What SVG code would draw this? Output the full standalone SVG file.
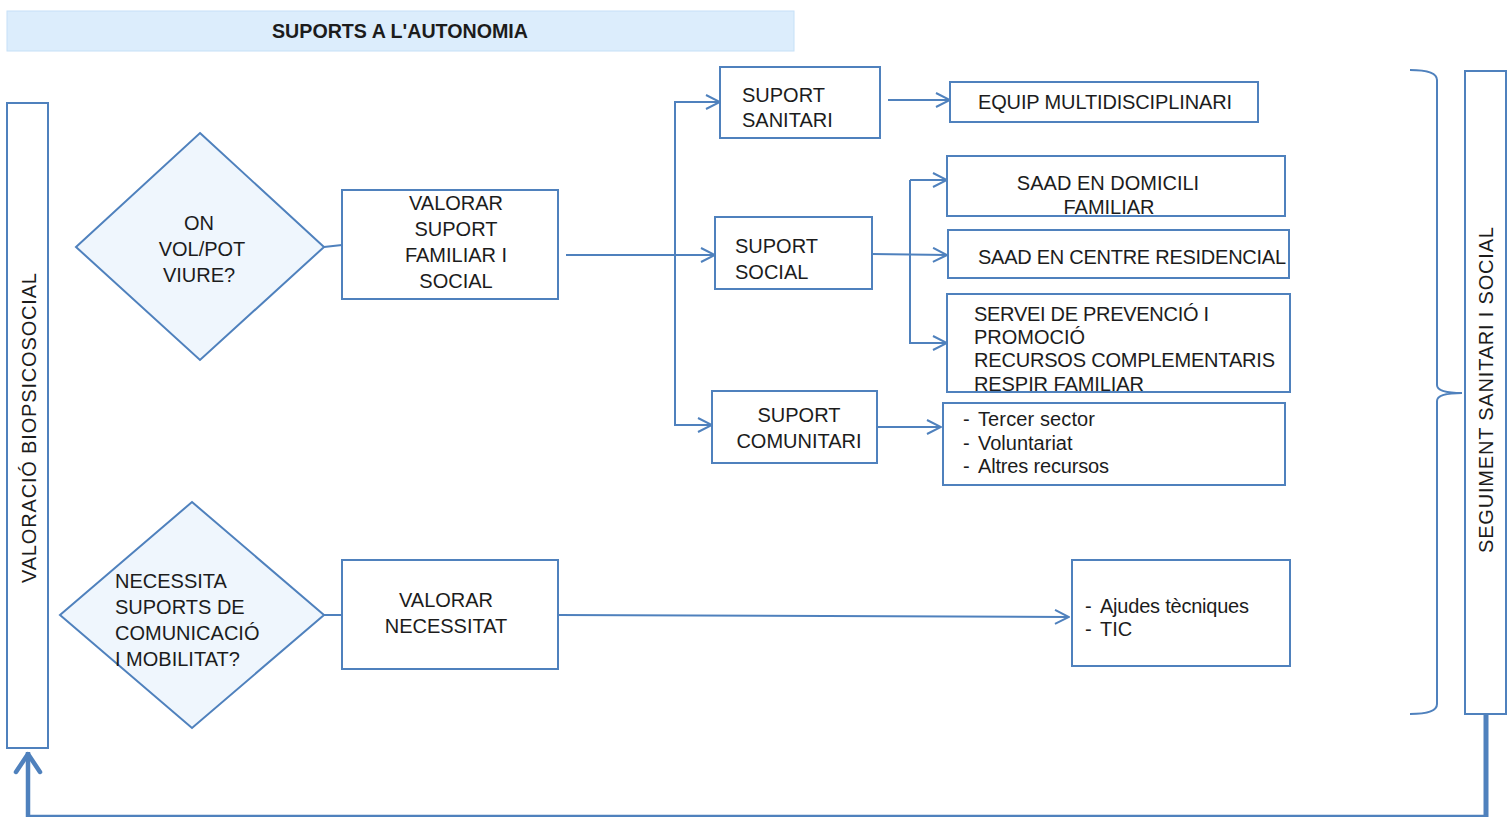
<svg xmlns="http://www.w3.org/2000/svg" width="1510" height="817" viewBox="0 0 1510 817">
  <style>
    .box { fill: #ffffff; stroke: #4f81bd; stroke-width: 2; }
    .dia { fill: #eff6fd; stroke: #4f81bd; stroke-width: 2; }
    .ln { fill: none; stroke: #4f81bd; stroke-width: 2; }
    .t { font-family: "Liberation Sans", Arial, sans-serif; font-size: 20px; fill: #1c1c1c; }
    .c { text-anchor: middle; }
  </style>
  <defs>
    <marker id="arr" viewBox="0 0 16 16" refX="15" refY="8" markerWidth="16" markerHeight="16" markerUnits="userSpaceOnUse" orient="auto">
      <path d="M1,1 L15,8 L1,15" fill="none" stroke="#4f81bd" stroke-width="2"/>
    </marker>
  </defs>

  <rect width="1510" height="817" fill="#ffffff"/>

  <!-- header band -->
  <g id="title">
    <rect x="7" y="11" width="787" height="40" fill="#dcedfc" stroke="#c6e0f7" stroke-width="1"/>
    <text class="t c" x="400" y="37.5" font-weight="bold" font-size="18" textLength="256" lengthAdjust="spacingAndGlyphs">SUPORTS A L'AUTONOMIA</text>
  </g>

  <!-- side columns -->
  <g id="valoracio">
    <rect class="box" x="7" y="103" width="41" height="645"/>
    <text class="t c" transform="translate(36,428) rotate(-90)" font-size="20" textLength="310">VALORACIÓ BIOPSICOSOCIAL</text>
  </g>
  <g id="seguiment">
    <rect class="box" x="1465" y="71" width="41" height="643"/>
    <text class="t c" transform="translate(1493,390) rotate(-90)" font-size="20" textLength="326">SEGUIMENT SANITARI I SOCIAL</text>
  </g>

  <!-- decisions -->
  <g id="on-viure">
    <polygon class="dia" points="200,133 324,247 200,360 76,247"/>
    <text class="t c" x="199" y="230">ON</text>
    <text class="t c" x="202" y="256">VOL/POT</text>
    <text class="t c" x="199" y="282">VIURE?</text>
  </g>
  <g id="necessita">
    <polygon class="dia" points="192,502 324,615 192,728 60,615"/>
    <text class="t" x="115" y="588">NECESSITA</text>
    <text class="t" x="115" y="614">SUPORTS DE</text>
    <text class="t" x="115" y="640">COMUNICACIÓ</text>
    <text class="t" x="115" y="666">I MOBILITAT?</text>
  </g>

  <!-- assessment boxes -->
  <g id="valorar-suport">
    <rect class="box" x="342" y="190" width="216" height="109"/>
    <text class="t c" x="456" y="210">VALORAR</text>
    <text class="t c" x="456" y="236">SUPORT</text>
    <text class="t c" x="456" y="262">FAMILIAR I</text>
    <text class="t c" x="456" y="288">SOCIAL</text>
  </g>
  <g id="valorar-necessitat">
    <rect class="box" x="342" y="560" width="216" height="109"/>
    <text class="t c" x="446" y="607">VALORAR</text>
    <text class="t c" x="446" y="633">NECESSITAT</text>
  </g>

  <!-- support types -->
  <g id="suport-sanitari">
    <rect class="box" x="720" y="67" width="160" height="71"/>
    <text class="t" x="742" y="102">SUPORT</text>
    <text class="t" x="742" y="127">SANITARI</text>
  </g>
  <g id="suport-social">
    <rect class="box" x="715" y="217" width="157" height="72"/>
    <text class="t" x="735" y="253">SUPORT</text>
    <text class="t" x="735" y="279">SOCIAL</text>
  </g>
  <g id="suport-comunitari">
    <rect class="box" x="712" y="391" width="165" height="72"/>
    <text class="t c" x="799" y="422">SUPORT</text>
    <text class="t c" x="799" y="448">COMUNITARI</text>
  </g>

  <!-- resources -->
  <g id="equip">
    <rect class="box" x="950" y="82" width="308" height="40"/>
    <text class="t" x="978" y="108.5" font-size="18" textLength="254">EQUIP MULTIDISCIPLINARI</text>
  </g>
  <g id="saad-domicili">
    <rect class="box" x="947" y="156" width="338" height="60"/>
    <text class="t c" x="1108" y="190">SAAD EN DOMICILI</text>
    <text class="t c" x="1109" y="214">FAMILIAR</text>
  </g>
  <g id="saad-residencial">
    <rect class="box" x="948" y="230" width="341" height="48"/>
    <text class="t" x="978" y="264" textLength="308">SAAD EN CENTRE RESIDENCIAL</text>
  </g>
  <g id="servei-prevencio">
    <rect class="box" x="947" y="294" width="343" height="98"/>
    <text class="t" x="974" y="321" textLength="235">SERVEI DE PREVENCIÓ I</text>
    <text class="t" x="974" y="344">PROMOCIÓ</text>
    <text class="t" x="974" y="367" textLength="301">RECURSOS COMPLEMENTARIS</text>
    <text class="t" x="974" y="391" textLength="170">RESPIR FAMILIAR</text>
  </g>
  <g id="recursos-comunitaris">
    <rect class="box" x="943" y="403" width="342" height="82"/>
    <text class="t" x="963" y="426">-</text><text class="t" x="978" y="426" textLength="117">Tercer sector</text>
    <text class="t" x="963" y="450">-</text><text class="t" x="978" y="450">Voluntariat</text>
    <text class="t" x="963" y="473">-</text><text class="t" x="978" y="473" textLength="131">Altres recursos</text>
  </g>
  <g id="ajudes">
    <rect class="box" x="1072" y="560" width="218" height="106"/>
    <text class="t" x="1085" y="613">-</text><text class="t" x="1100" y="613" textLength="149">Ajudes tècniques</text>
    <text class="t" x="1085" y="636">-</text><text class="t" x="1100" y="636">TIC</text>
  </g>

  <!-- connectors -->
  <g id="connectors">
    <line class="ln" x1="324" y1="247" x2="342" y2="245"/>
    <line class="ln" x1="324" y1="615" x2="342" y2="615"/>
    <line class="ln" x1="566" y1="255" x2="715" y2="255" marker-end="url(#arr)"/>
    <polyline class="ln" points="720,102 675,102 675,425 712,425" marker-end="url(#arr)"/>
    <line class="ln" x1="675" y1="102" x2="720" y2="102" marker-end="url(#arr)"/>
    <line class="ln" x1="888" y1="100" x2="950" y2="100" marker-end="url(#arr)"/>
    <line class="ln" x1="872" y1="254" x2="947" y2="255" marker-end="url(#arr)"/>
    <line class="ln" x1="910" y1="180" x2="947" y2="180" marker-end="url(#arr)"/>
    <polyline class="ln" points="910,180 910,343 947,343" marker-end="url(#arr)"/>
    <line class="ln" x1="877" y1="427" x2="941" y2="427" marker-end="url(#arr)"/>
    <line class="ln" x1="558" y1="615" x2="1069" y2="617" marker-end="url(#arr)"/>
    <!-- brace grouping all supports -->
    <path class="ln" d="M1410,70 Q1437,70 1437,80 L1437,385 Q1437,393 1462,393 Q1437,393 1437,401 L1437,704 Q1437,714 1410,714"/>
    <!-- feedback loop back to assessment -->
    <line x1="1486" y1="714" x2="1486" y2="817" stroke="#4f81bd" stroke-width="5"/>
    <line x1="1488" y1="816" x2="26" y2="816" stroke="#4f81bd" stroke-width="2.5"/>
    <line x1="28" y1="817" x2="28" y2="752" stroke="#4f81bd" stroke-width="4.5"/>
    <polyline points="16,772 28,754 40,772" fill="none" stroke="#4f81bd" stroke-width="4.5" stroke-linecap="round" stroke-linejoin="round"/>
  </g>
</svg>
